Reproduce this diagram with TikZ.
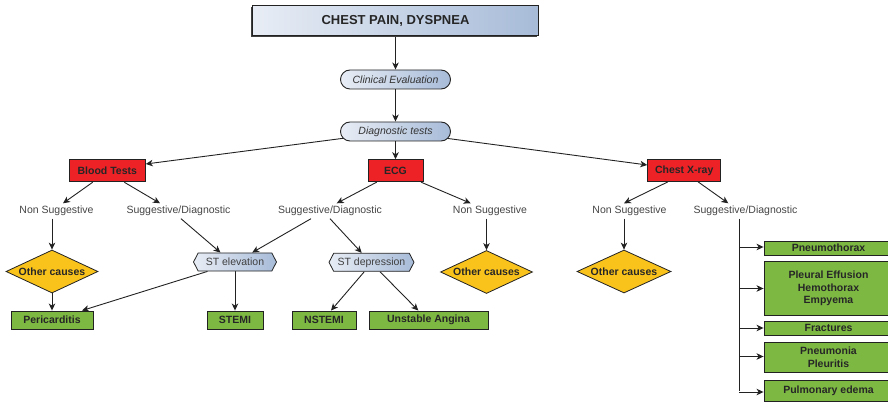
\documentclass[tikz,border=0pt]{standalone}
\usepackage{fontspec}
\setmainfont{Liberation Sans}
\usetikzlibrary{shapes.geometric,shapes.symbols,arrows.meta,backgrounds,shadows}

\definecolor{boxred}{HTML}{EC2227}
\definecolor{boxgreen}{HTML}{7DB843}
\definecolor{boxyellow}{HTML}{FAC31C}
\definecolor{bluelight}{HTML}{E8EDF5}
\definecolor{bluedark}{HTML}{A7BBD8}
\definecolor{linecol}{HTML}{222222}
\definecolor{labelcol}{HTML}{454545}

\begin{document}
\begin{tikzpicture}[x=1pt,y=-1pt,
  basefont/.style={font=\fontsize{10.5}{12.7}\selectfont},
  titlebox/.style={draw=linecol, line width=1.3pt, left color=bluelight, right color=bluedark,
    minimum width=286pt, minimum height=30pt, inner sep=0pt,
    font=\fontsize{13}{15}\selectfont\bfseries, text=black!85,
    drop shadow={shadow xshift=-1.2pt, shadow yshift=-1.2pt, fill=black!75, opacity=1}},
  pill/.style={draw=linecol, line width=0.9pt, rounded corners=9.5pt, left color=bluelight,
    right color=bluedark, minimum width=110pt, minimum height=19pt, inner sep=0pt,
    font=\fontsize{10.5}{12.7}\selectfont\itshape, text=black!80},
  testbox/.style={draw=linecol, line width=0.9pt, fill=boxred, minimum height=22pt, inner sep=0pt,
    font=\fontsize{10.5}{12.7}\selectfont\bfseries, text=black!85},
  lbl/.style={basefont, text=labelcol, inner sep=0pt, minimum height=15pt},
  othercause/.style={diamond, aspect=2.1, draw=linecol, line width=0.8pt, fill=boxyellow,
    minimum width=92pt, minimum height=43pt, inner sep=0pt,
    font=\fontsize{10.5}{12.7}\selectfont\bfseries, text=black!85},
  stsign/.style={signal, signal to=west and east, signal pointer angle=125, draw=linecol,
    line width=0.8pt, left color=bluelight, right color=bluedark, minimum height=18pt,
    inner sep=0pt, basefont, text=black!75},
  dxbox/.style={draw=linecol, line width=0.9pt, fill=boxgreen, minimum height=18pt, inner sep=0pt,
    font=\fontsize{10.5}{12.7}\selectfont\bfseries, text=black!85, align=center},
  sidebox/.style={dxbox, minimum width=129pt},
  arr/.style={draw=linecol, line width=0.9pt, -{Stealth[length=7pt,width=6.5pt,inset=2pt]}},
  plain/.style={draw=linecol, line width=1pt}
]
\clip (0,0) rectangle (888,403);

% top of the chart
\node[titlebox] (top) at (395.5,20.5) {CHEST PAIN, DYSPNEA};
\node[pill] (clin) at (395.5,79.5) {Clinical Evaluation};
\node[pill] (diag) at (395.5,131.5) {Diagnostic tests};

% the three tests
\node[testbox, minimum width=76pt] (blood) at (107.3,170.8) {Blood Tests};
\node[testbox, minimum width=55pt] (ecg) at (395.5,170.7) {ECG};
\node[testbox, minimum width=73pt] (cxr) at (684.2,170.5) {Chest X-ray};

% results of each test
\node[lbl] (ns1) at (56.5,211) {Non Suggestive};
\node[lbl] (sd1) at (178.5,211) {Suggestive/Diagnostic};
\node[lbl] (sd2) at (330,211) {Suggestive/Diagnostic};
\node[lbl] (ns2) at (490,211) {Non Suggestive};
\node[lbl] (ns3) at (629.5,211) {Non Suggestive};
\node[lbl] (sd3) at (745.5,211) {Suggestive/Diagnostic};

% other causes
\node[othercause] (oc1) at (52,271.5) {Other causes};
\node[othercause] (oc2) at (486.5,272) {Other causes};
\node[othercause, minimum width=94pt] (oc3) at (624,271.5) {Other causes};

% ECG findings
\node[stsign, minimum width=83pt] (stel) at (235,262) {ST elevation};
\node[stsign, minimum width=85pt] (stdep) at (371.5,262.3) {ST depression};

% cardiac diagnoses
\node[dxbox, minimum width=82pt] (peri) at (52,320) {Pericarditis};
\node[dxbox, minimum width=56pt] (stemi) at (235,320) {STEMI};
\node[dxbox, minimum width=64pt] (nstemi) at (324,320) {NSTEMI};
\node[dxbox, minimum width=119pt] (ua) at (428.5,320) {Unstable Angina};

% chest X-ray diagnoses (boxes run off the right edge)
\node[sidebox, minimum height=14pt] (pneu) at (828.5,248) {Pneumothorax};
\node[sidebox, minimum height=54pt] (pleu) at (828.5,288.5) {Pleural Effusion\\Hemothorax\\Empyema};
\node[sidebox, minimum height=14pt] (frac) at (828.5,328) {Fractures};
\node[sidebox, minimum height=30pt] (pnm) at (828.5,357.5) {Pneumonia\\Pleuritis};
\node[sidebox, minimum height=21pt] (pulm) at (828.5,391) {Pulmonary edema};

\coordinate (trunk) at ([xshift=-6.5pt]sd3.south);

\begin{pgfonlayer}{background}
  \draw[arr] (top.south) -- (clin.north);
  \draw[arr] (clin.south) -- (diag.north);
  \draw[arr] (diag.center) -- ([yshift=6.8pt]blood.east);
  \draw[arr] (diag.south) -- (ecg.north);
  \draw[arr] (diag.center) -- ([yshift=5.5pt]cxr.west);

  \draw[arr] ([xshift=-14.6pt]blood.south) -- ([xshift=6.5pt]ns1.north);
  \draw[arr] ([xshift=17pt]blood.south) -- ([xshift=-18.5pt]sd1.north);
  \draw[arr] ([xshift=-18.8pt]ecg.south) -- ([xshift=6.7pt]sd2.north);
  \draw[arr] ([xshift=25.5pt]ecg.south) -- ([xshift=-19.3pt]ns2.north);
  \draw[arr] ([xshift=-16.5pt]cxr.south) -- ([xshift=-5.5pt]ns3.north);
  \draw[arr] ([xshift=14pt]cxr.south) -- ([xshift=-17.2pt]sd3.north);

  \draw[arr] (oc1.north |- ns1.south) -- (oc1.north);
  \draw[arr] (oc2.north |- ns2.south) -- (oc2.north);
  \draw[arr] (oc3.north |- ns3.south) -- (oc3.north);

  \draw[arr] ([xshift=2.5pt]sd1.south) -- ([xshift=-14.5pt]stel.north);
  \draw[arr] ([xshift=-19pt]sd2.south) -- ([xshift=17.2pt]stel.north);
  \draw[arr] (sd2.south) -- ([xshift=-9.8pt]stdep.north);

  \draw[arr] (oc1.south) -- (peri.north);
  \draw[arr] ([xshift=-27.5pt]stel.south) -- ([xshift=30pt]peri.north);
  \draw[arr] (stel.south) -- (stemi.north);
  \draw[arr] ([xshift=-7.2pt]stdep.south) -- ([xshift=7pt]nstemi.north);
  \draw[arr] ([xshift=8.5pt]stdep.south) -- ([xshift=-10.2pt]ua.north);

  \draw[plain] (trunk) -- (trunk |- pulm.west);
  \draw[arr] ([yshift=1pt]trunk |- pneu.west) -- ([yshift=1pt]pneu.west);
  \draw[arr] (trunk |- pleu.west) -- (pleu.west);
  \draw[arr] (trunk |- frac.west) -- (frac.west);
  \draw[arr] ([yshift=1pt]trunk |- pnm.west) -- ([yshift=1pt]pnm.west);
  \draw[arr] ([yshift=-1pt]trunk |- pulm.west) -- ([yshift=-1pt]pulm.west);
\end{pgfonlayer}
\end{tikzpicture}
\end{document}
